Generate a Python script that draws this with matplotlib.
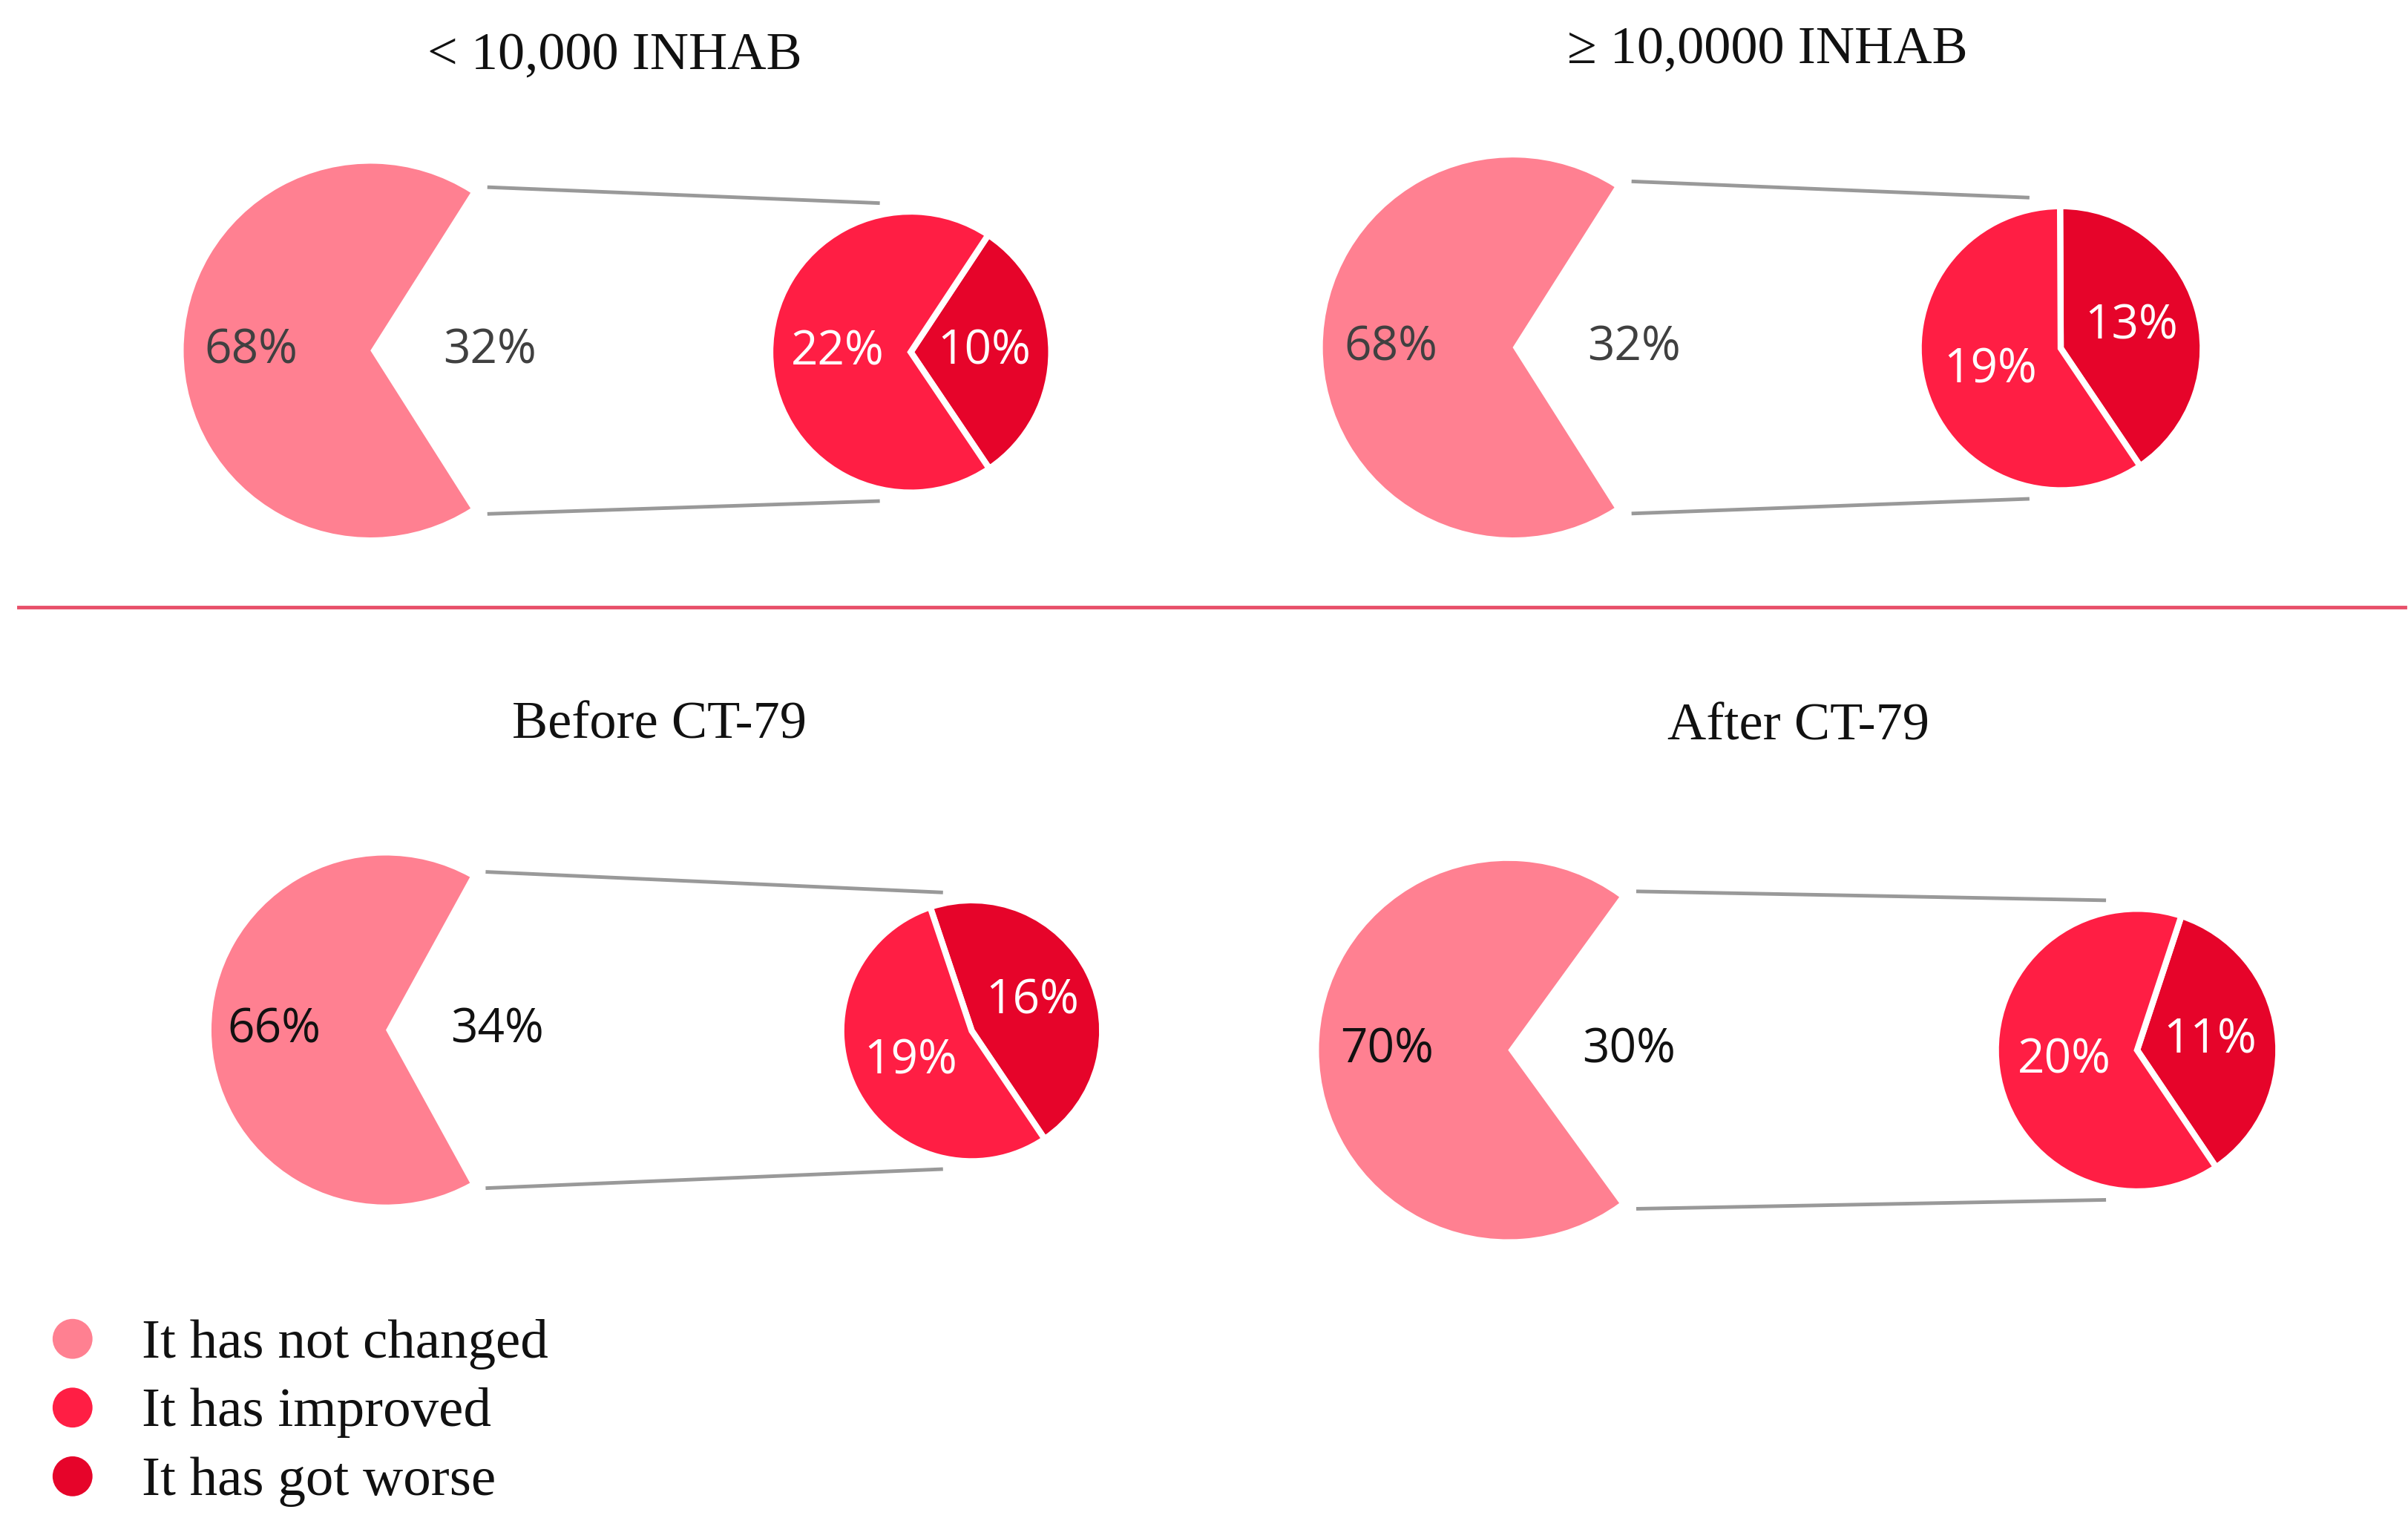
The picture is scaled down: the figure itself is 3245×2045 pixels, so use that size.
import numpy as np
import matplotlib
matplotlib.use('Agg')
import matplotlib.pyplot as plt


# data, one entry per panel
panel_titles = ['< 10,000 INHAB', '\u2265 10,0000 INHAB', 'Before CT-79', 'After CT-79']
not_changed = [68, 68, 66, 70]
changed = [32, 32, 34, 30]
improved = [22, 19, 19, 20]
got_worse = [10, 13, 16, 11]
legend_labels = ['It has not changed', 'It has improved', 'It has got worse']

colors = ['#FF8091', '#FF1E44', '#E6042A']

# layout in reference pixels (1560 x 983, y down)
W, H = 1560, 983
title_pos = [(398, 45), (1145, 41), (427, 478), (1165, 479)]
big_center = [(240, 227), (980, 225), (250, 667), (977, 680)]
big_r = [121, 123, 113, 122.5]
small_center = [(590, 228), (1335, 225.5), (629.5, 667.5), (1384.5, 680)]
small_r = [91, 92, 84.5, 91.5]
label_dark = ['#404040', '#404040', '#111111', '#111111']

serif = ['Liberation Serif', 'DejaVu Serif']
sans = ['Open Sans', 'DejaVu Sans']


def to_data(x, y):
    return x, H - y


fig = plt.figure(figsize=(32.45, 20.45), dpi=100)
ax = fig.add_axes([0, 0, 1, 1])

for i in range(4):
    # big pie, the changed part left blank
    bx, by = to_data(*big_center[i])
    rb = big_r[i]
    wedges, texts = ax.pie([not_changed[i], changed[i]],
                           labels=[f'{not_changed[i]}%', f'{changed[i]}%'],
                           colors=[colors[0], 'white'],
                           startangle=changed[i] * 1.8,
                           center=(bx, by), radius=rb, labeldistance=0.64,
                           textprops=dict(fontsize=46, family=sans,
                                          color=label_dark[i]),
                           frame=True)
    wedges[1].set_facecolor('none')
    for t in texts:
        t.set_ha('center')
        t.set_va('center')

    # small pie with the split of the changed part
    sx, sy = to_data(*small_center[i])
    rs = small_r[i]
    wedges, texts = ax.pie([got_worse[i], improved[i]],
                           labels=[f'{got_worse[i]}%', f'{improved[i]}%'],
                           colors=[colors[2], colors[1]],
                           startangle=-56, explode=[0.03, 0],
                           center=(sx, sy), radius=rs, labeldistance=0.52,
                           wedgeprops=dict(edgecolor='white', linewidth=6),
                           textprops=dict(fontsize=46, family=sans, color='white'),
                           frame=True)
    for t in texts:
        t.set_ha('center')
        t.set_va('center')

    # connector lines from the gap edges to the small pie
    half = np.deg2rad(changed[i] * 1.8)
    for sgn in (1, -1):
        x0 = bx + rb * np.cos(half) + 0.09 * rb
        y0 = by + sgn * (rb * np.sin(half) + 0.03 * rb)
        x1 = sx - 0.22 * rs
        y1 = sy + sgn * 1.06 * rs
        ax.plot([x0, x1], [y0, y1], color='#999999', lw=3.5, solid_capstyle='butt')

    tx, ty = to_data(*title_pos[i])
    ax.text(tx, ty, panel_titles[i], ha='center', va='baseline',
            fontsize=52, family=serif, color='#111111')

# separator
ax.plot([12, 1558], [H - 393, H - 393], color='#E8506A', lw=3.5)

# legend
for k, lab in enumerate(legend_labels):
    ly = 867 + 44.5 * k
    ax.scatter([47], [H - ly], s=1500, color=colors[k], edgecolor='none')
    ax.text(92, H - ly - 12, lab, ha='left', va='baseline',
            fontsize=54, family=serif, color='#111111')

ax.set_xlim(0, W)
ax.set_ylim(0, H)
ax.set_aspect('auto')
ax.axis('off')
fig.savefig('out.png', dpi=100, facecolor='white')
